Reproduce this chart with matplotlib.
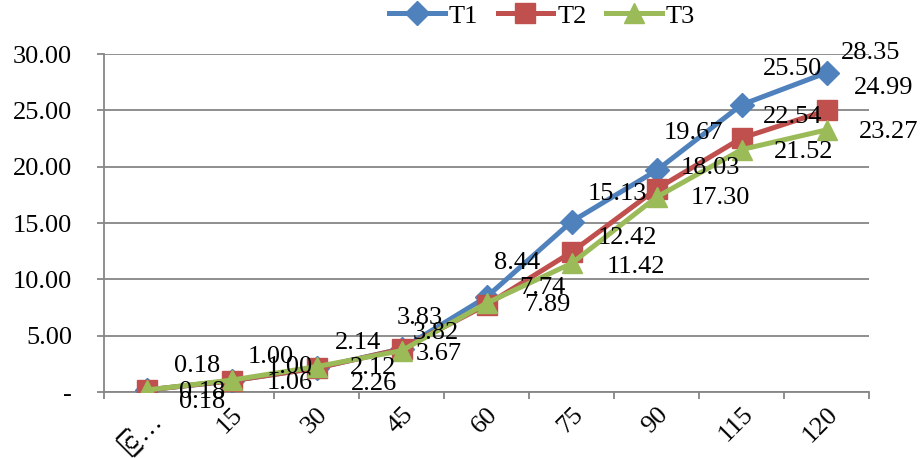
import matplotlib
matplotlib.use("Agg")
import matplotlib.pyplot as plt
from matplotlib import font_manager
from matplotlib.ft2font import FT2Font

plt.rcParams['font.family'] = ['Liberation Serif', 'DejaVu Sans']

categories = ["ငြ…", "15", "30", "45", "60", "75", "90", "115", "120"]
t1 = [0.18, 1.00, 2.14, 3.83, 8.44, 15.13, 19.67, 25.50, 28.35]
t2 = [0.18, 1.00, 2.12, 3.82, 7.74, 12.42, 18.03, 22.54, 24.99]
t3 = [0.18, 1.06, 2.26, 3.67, 7.89, 11.42, 17.30, 21.52, 23.27]
y_ticks = [0, 5, 10, 15, 20, 25, 30]

# label offsets in pixels (dx, dy up)
off1 = [(51, 24), (39, 24), (41, 25), (18, 31), (30, 34), (46, 28), (37, 37), (51, 36), (44, 20)]
off2 = [(56, -2), (58, 14), (57, 0), (34, 16), (56, 17), (56, 14), (54, 21), (51, 21), (57, 22)]
off3 = [(56, -12), (58, -3), (57, -17), (37, -3), (61, -2), (64, -4), (64, -1), (62, -2), (62, -2)]

# look for an installed font that has the Myanmar letters of the first label
first_fams = ['Liberation Serif', 'DejaVu Sans']
for fe in font_manager.fontManager.ttflist:
    try:
        cmap = FT2Font(fe.fname).get_charmap()
    except Exception:
        continue
    if 0x1004 in cmap and 0x103C in cmap:
        first_fams = ['Liberation Serif', fe.name, 'DejaVu Sans']
        break

fig = plt.figure(figsize=(9.24, 4.58), dpi=100)
ax = fig.add_axes([0.1126, 0.144, 0.828, 0.738])

x = list(range(len(categories)))
series = [
    ("T1", t1, "#4F81BD", "D", 12, off1),
    ("T2", t2, "#C0504D", "s", 15, off2),
    ("T3", t3, "#9BBB59", "^", 15, off3),
]
for name, vals, col, mk, ms, offs in series:
    ax.plot(x, vals, color=col, lw=3.6, marker=mk, ms=ms, label=name, zorder=3)
for name, vals, col, mk, ms, offs in series:
    for xi, v, (dx, dy) in zip(x, vals, offs):
        ax.annotate("%.2f" % v, (xi, v), xytext=(dx, dy), textcoords='offset pixels',
                    ha='center', va='center', fontsize=19, zorder=4)

ax.set_xlim(-0.5, len(categories) - 0.5)
ax.set_ylim(0, 30)
ax.set_yticks(y_ticks)
ax.set_yticklabels(["-"] + ["%.2f" % t for t in y_ticks[1:]], fontsize=19)
ax.set_xticks(x)
ax.set_xticklabels(categories, fontsize=19, rotation=45, ha='right', va='top',
                   rotation_mode='anchor')
ax.get_xticklabels()[0].set_family(first_fams)
ax.set_xticks([i + 0.5 for i in range(-1, len(categories))], minor=True)
ax.tick_params(axis='x', which='major', length=0, pad=8)
ax.tick_params(axis='x', which='minor', length=5, color='#868686', width=1.3)
ax.tick_params(axis='y', length=5, color='#868686', width=1.3, pad=18)

ax.grid(axis='y', color='#868686', lw=1.3)
ax.set_axisbelow(True)
for s in ['top', 'right']:
    ax.spines[s].set_visible(False)
for s in ['left', 'bottom']:
    ax.spines[s].set_color('#868686')
    ax.spines[s].set_linewidth(1.3)

fig.legend(*ax.get_legend_handles_labels(), loc='center',
           bbox_to_anchor=(542 / 924, 1 - 16 / 458), ncol=3, frameon=False,
           fontsize=19, handlelength=2.1, handletextpad=0.15, columnspacing=0.75,
           borderpad=0, borderaxespad=0)

fig.savefig("out.png", dpi=100)
